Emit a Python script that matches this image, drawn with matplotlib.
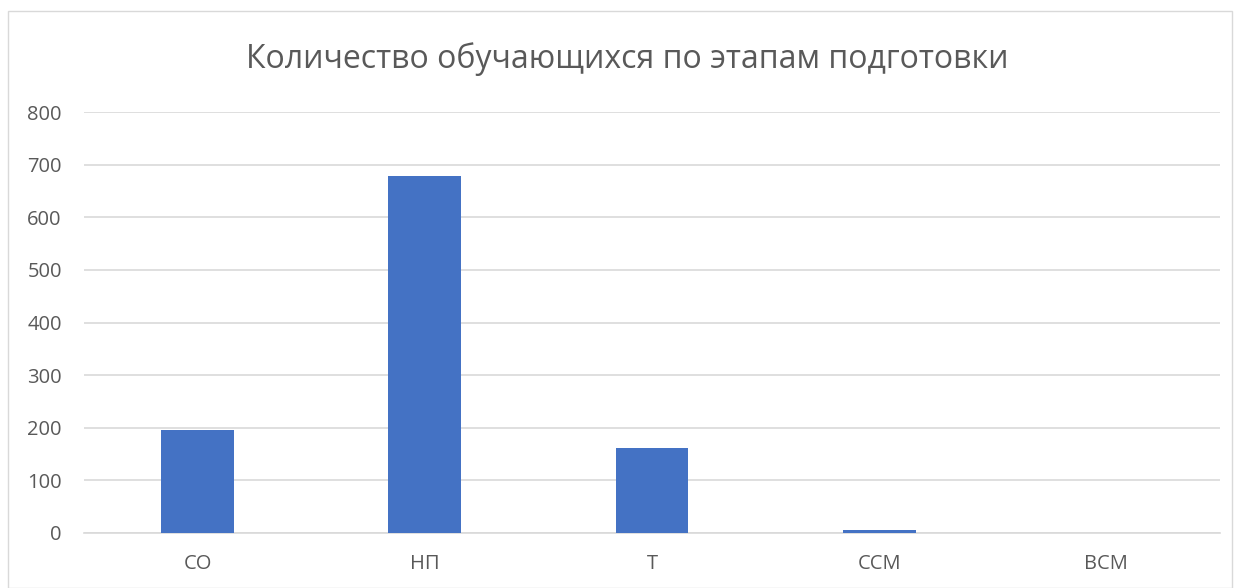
import matplotlib
matplotlib.use("Agg")
import matplotlib.pyplot as plt
from matplotlib.patches import Rectangle

categories = ["СО", "НП", "Т", "ССМ", "ВСМ"]
values = [196, 678, 161, 5, 0]
yticks = [0, 100, 200, 300, 400, 500, 600, 700, 800]
title = "Количество обучающихся по этапам подготовки"

plt.rcParams['font.family'] = ['Open Sans', 'DejaVu Sans']

fig = plt.figure(figsize=(12.4, 5.88), dpi=100)
fig.patches.append(Rectangle((8/1240, 0.0), 1 - 16/1240, 1 - 11/588, transform=fig.transFigure,
                             fill=False, edgecolor='#d9d9d9', linewidth=1))
ax = fig.add_axes([84/1240, 1 - 533/588, (1220-84)/1240, (533-112)/588])
x = list(range(len(categories)))
ax.bar(x, values, width=0.32, color='#4472C4', zorder=3)
ax.set_xlim(-0.5, len(categories) - 0.5)
ax.set_ylim(0, 800)
ax.set_yticks(yticks)
ax.set_xticks(x)
ax.set_xticklabels(categories)
ax.grid(axis='y', color='#d9d9d9', linewidth=1.2, zorder=0)
for s in ['top', 'right', 'left']:
    ax.spines[s].set_visible(False)
ax.spines['bottom'].set_color('#d9d9d9')
ax.spines['bottom'].set_linewidth(1.2)
ax.tick_params(axis='both', length=0, labelsize=14.5, colors='#595959')
ax.tick_params(axis='y', pad=16)
ax.tick_params(axis='x', pad=15)
fig.text(0.506, 1 - 68/588, title, ha='center', va='baseline', fontsize=23, color='#595959')
fig.savefig("out.png", dpi=100)
